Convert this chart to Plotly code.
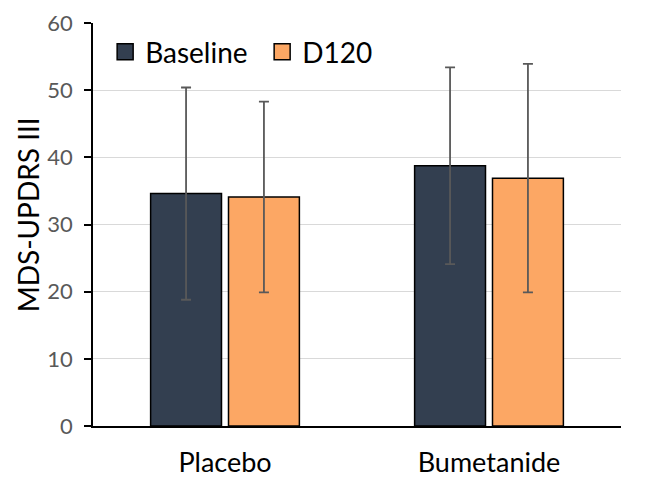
import plotly.graph_objects as go

categories = ["Placebo", "Bumetanide"]
baseline_mean = [34.6, 38.75]
baseline_err = [15.8, 14.65]
d120_mean = [34.1, 36.9]
d120_err = [14.2, 17.0]
series_names = ["Baseline", "D120"]
series_colors = ["#333F50", "#FCA764"]
y_ticks = [0, 10, 20, 30, 40, 50, 60]
y_title = "MDS-UPDRS III"

font_family = "Lato, 'Open Sans', sans-serif"

fig = go.Figure()
for name, means, errs, color in [
    (series_names[0], baseline_mean, baseline_err, series_colors[0]),
    (series_names[1], d120_mean, d120_err, series_colors[1]),
]:
    fig.add_trace(go.Bar(
        x=categories, y=means, name=name, showlegend=False,
        marker=dict(color=color, line=dict(color="#000000", width=1.5)),
        error_y=dict(type="data", array=errs, visible=True,
                     color="#595959", thickness=1.8, width=5),
    ))
# legend-only entries with larger square swatches
for name, color in zip(series_names, series_colors):
    fig.add_trace(go.Scatter(
        x=[None], y=[None], mode="markers", name=name,
        marker=dict(symbol="square", size=18, color=color,
                    line=dict(color="#000000", width=1.5)),
    ))

fig.update_layout(
    width=644, height=472,
    margin=dict(l=85, r=31, t=15, b=54),
    paper_bgcolor="white", plot_bgcolor="white",
    barmode="group", bargap=0.41, bargroupgap=0.09,
    font=dict(family=font_family, size=19, color="#000000"),
    legend=dict(orientation="h", x=0.023, y=0.99, xanchor="left", yanchor="top",
                font=dict(size=28, color="#000000"), bgcolor="rgba(0,0,0,0)",
                itemwidth=30, entrywidth=112, entrywidthmode="pixels"),
    showlegend=True,
    annotations=[dict(
        text=y_title, textangle=-90, xref="paper", yref="paper",
        x=-0.124, y=0.524, xanchor="center", yanchor="middle", showarrow=False,
        font=dict(size=28, color="#000000", family=font_family),
    )],
)
fig.update_yaxes(
    range=[0, 60], tickvals=y_ticks, showgrid=True, gridcolor="#D9D9D9", gridwidth=1,
    showline=True, linecolor="#000000", linewidth=1.5,
    ticks="outside", ticklen=7, tickcolor="#000000", tickwidth=1.5,
    tickfont=dict(size=22, color="#595959"), ticklabelstandoff=7,
    zeroline=False, automargin=False,
)
fig.update_xaxes(
    showline=True, linecolor="#000000", linewidth=1.5, ticks="",
    tickfont=dict(size=27, color="#000000"), ticklabelstandoff=12,
    automargin=False,
)

fig.write_html("out.html")
